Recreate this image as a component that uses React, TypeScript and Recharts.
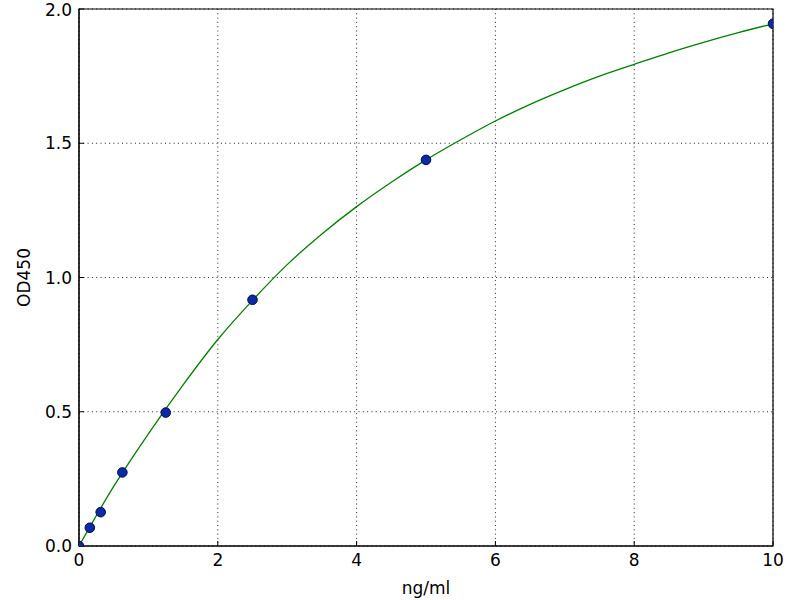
import { ComposedChart, Line, Scatter, XAxis, YAxis, CartesianGrid, ReferenceArea, Label } from 'recharts'

// standard points (ng/ml vs OD450)
const conc = [0, 0.156, 0.3125, 0.625, 1.25, 2.5, 5, 10]
const od = [0, 0.068, 0.126, 0.274, 0.497, 0.917, 1.438, 1.945]

// fitted curve
const curveX = [0, 0.5, 1, 1.5, 2, 2.5, 3, 3.5, 4, 4.5, 5, 5.5, 6, 6.5, 7, 7.5, 8, 8.5, 9, 9.5, 10]
const curveY = [0, 0.222, 0.418, 0.6, 0.769, 0.915, 1.048, 1.162, 1.264, 1.355, 1.438, 1.513, 1.583, 1.645, 1.7, 1.75, 1.794, 1.837, 1.876, 1.912, 1.945]

const xTicks = [0, 2, 4, 6, 8, 10]
const yTicks = [0, 0.5, 1, 1.5, 2]

const points = conc.map((x, i) => ({ x, y: od[i] }))
const curve = curveX.map((x, i) => ({ x, fit: curveY[i] }))

const font = { fontFamily: 'DejaVu Sans', fontSize: 17, fill: '#000' }

export default function App() {
  return (
    <div style={{ position: 'absolute', left: 0, top: 0, background: '#fff' }}>
      <ComposedChart width={800} height={600} margin={{ top: 9, right: 27, bottom: 0, left: 0 }}>
        <CartesianGrid xAxisId="b" yAxisId="l" stroke="#222" strokeDasharray="1 3.3" strokeWidth={1} />
        <XAxis xAxisId="b" dataKey="x" type="number" domain={[0, 10]} ticks={xTicks} allowDataOverflow
          height={54} tickSize={-5} tickMargin={13} tick={font} axisLine={{ stroke: '#000' }} tickLine={{ stroke: '#000' }}>
          <Label value="ng/ml" position="insideBottom" offset={6} style={font} />
        </XAxis>
        <XAxis xAxisId="t" orientation="top" dataKey="x" type="number" domain={[0, 10]} ticks={xTicks} allowDataOverflow
          height={0} tickSize={-5} tickFormatter={() => ''} axisLine={{ stroke: '#000' }} tickLine={{ stroke: '#000' }} />
        <YAxis yAxisId="l" type="number" domain={[0, 2]} ticks={yTicks} allowDataOverflow width={79}
          tickSize={-5} tickMargin={12} tick={font} tickFormatter={(v: number) => v.toFixed(1)}
          axisLine={{ stroke: '#000' }} tickLine={{ stroke: '#000' }}>
          <Label value="OD450" angle={-90} position="insideLeft" offset={24} style={{ ...font, textAnchor: 'middle' }} />
        </YAxis>
        <YAxis yAxisId="r" orientation="right" type="number" domain={[0, 2]} ticks={yTicks} allowDataOverflow width={0}
          tickSize={-5} tickFormatter={() => ''} axisLine={{ stroke: '#000' }} tickLine={{ stroke: '#000' }} />
        <Line xAxisId="b" yAxisId="l" data={curve} dataKey="fit" type="monotone" stroke="#008000" strokeWidth={1.3}
          dot={false} activeDot={false} isAnimationActive={false} />
        <Scatter xAxisId="b" yAxisId="l" data={points} dataKey="y" fill="#0c2aa6" stroke="#000c4a" strokeWidth={1}
          shape={(p: any) => <circle cx={p.cx} cy={p.cy} r={4.8} fill="#0c2aa6" stroke="#000c4a" strokeWidth={1} />}
          isAnimationActive={false} />
        <ReferenceArea xAxisId="b" yAxisId="l" x1={0} x2={10} y1={0} y2={2} fill="none" stroke="#000" strokeWidth={1.2} ifOverflow="visible" />
      </ComposedChart>
    </div>
  )
}
